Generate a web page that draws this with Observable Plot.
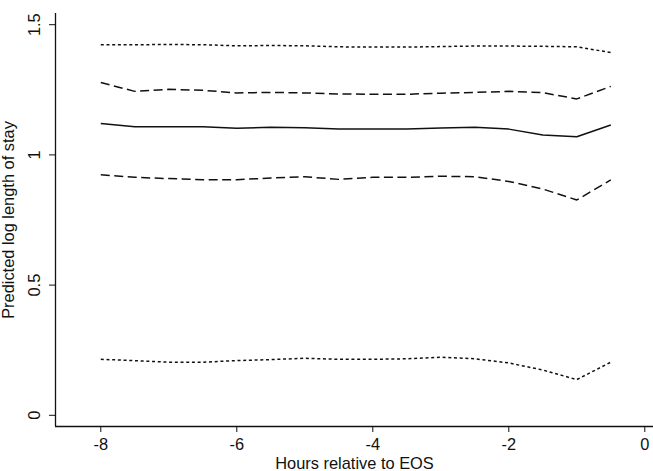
<!DOCTYPE html>
<html>
<head>
<meta charset="utf-8">
<script src="https://cdn.jsdelivr.net/npm/d3@7"></script>
<script src="https://cdn.jsdelivr.net/npm/@observablehq/plot@0.6"></script>
<style>
  html, body { margin: 0; padding: 0; background: #fff; }
  #chart svg { display: block; }
</style>
</head>
<body>
<div id="chart"></div>
<script>
const hours = [-8, -7.5, -7, -6.5, -6, -5.5, -5, -4.5, -4, -3.5, -3, -2.5, -2, -1.5, -1, -0.5];
const upperDotted = [1.423, 1.423, 1.424, 1.423, 1.419, 1.420, 1.419, 1.415, 1.414, 1.414, 1.416, 1.418, 1.418, 1.417, 1.415, 1.393];
const upperDashed = [1.278, 1.244, 1.252, 1.248, 1.238, 1.240, 1.238, 1.234, 1.233, 1.233, 1.237, 1.240, 1.244, 1.239, 1.215, 1.263];
const predicted   = [1.121, 1.108, 1.108, 1.108, 1.102, 1.106, 1.104, 1.099, 1.099, 1.099, 1.103, 1.106, 1.099, 1.076, 1.070, 1.115];
const lowerDashed = [0.924, 0.914, 0.909, 0.905, 0.905, 0.911, 0.916, 0.906, 0.914, 0.914, 0.918, 0.916, 0.898, 0.869, 0.827, 0.904];
const lowerDotted = [0.215, 0.210, 0.204, 0.204, 0.210, 0.214, 0.219, 0.215, 0.215, 0.217, 0.223, 0.217, 0.201, 0.174, 0.137, 0.204];

const xTicks = [-8, -6, -4, -2, 0];
const yTicks = [0, 0.5, 1, 1.5];
const xDomain = [-8.666, 0.128];
const yDomain = [-0.043, 1.543];
const xTitle = "Hours relative to EOS";
const yTitle = "Predicted log length of stay";

const series = [
  {values: upperDotted, dash: "3,2.7"},
  {values: upperDashed, dash: "9,4.5"},
  {values: predicted,   dash: null},
  {values: lowerDashed, dash: "9,4.5"},
  {values: lowerDotted, dash: "3,2.7"}
];

const ink = "#111";
const font = "'Liberation Sans', Arial, Helvetica, sans-serif";

const lineMarks = series.map(s =>
  Plot.line(hours.map((h, i) => ({x: h, y: s.values[i]})), {
    x: "x", y: "y", stroke: ink, strokeWidth: 1.5,
    strokeDasharray: s.dash, strokeLinejoin: "round", strokeLinecap: "butt"
  })
);

const chart = Plot.plot({
  width: 653,
  height: 471,
  marginLeft: 55,
  marginRight: 0,
  marginTop: 13,
  marginBottom: 45,
  style: {fontFamily: font, fontSize: "16px", color: ink, background: "#fff"},
  x: {domain: xDomain, axis: null},
  y: {domain: yDomain, axis: null},
  marks: [
    Plot.ruleX([xDomain[0]], {stroke: ink, strokeWidth: 1.3}),
    Plot.ruleY([yDomain[0]], {stroke: ink, strokeWidth: 1.3}),
    Plot.axisX({ticks: xTicks, tickSize: 6, tickPadding: 6, tickFormat: d => String(d), label: null, fontSize: 16.4, stroke: ink}),
    Plot.axisY({ticks: yTicks, tickSize: 6, tickFormat: () => "", label: null, stroke: ink}),
    Plot.text(yTicks, {y: d => d, frameAnchor: "left", text: d => String(d), rotate: -90,
      textAnchor: "middle", lineAnchor: "top", dx: -27, fontSize: 16.4, fill: ink}),
    Plot.text([xTitle], {frameAnchor: "bottom", lineAnchor: "top", dy: 31, fontSize: 16.4, fill: ink}),
    Plot.text([yTitle], {frameAnchor: "left", rotate: -90, textAnchor: "middle", lineAnchor: "top", dx: -53, fontSize: 16.4, fill: ink}),
    ...lineMarks
  ]
});

document.getElementById("chart").appendChild(chart);
</script>
</body>
</html>
